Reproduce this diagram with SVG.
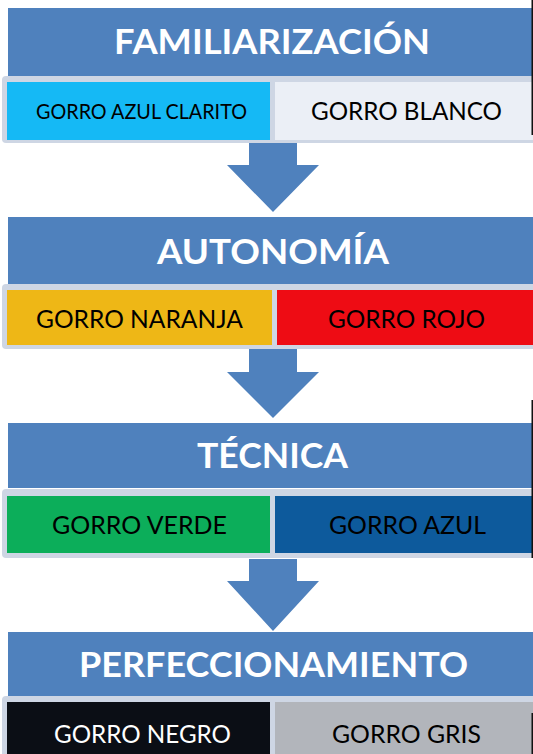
<svg xmlns="http://www.w3.org/2000/svg" width="533" height="754" viewBox="0 0 533 754">
<style>
.hdr{fill:#4F81BD}
.band{fill:#CED6E4}
.ttl{font-family:Lato,"Liberation Sans",sans-serif;font-weight:bold;font-size:34px;fill:#FFFFFF;text-anchor:middle}
.lbl{font-family:Lato,"Liberation Sans",sans-serif;font-size:25px;fill:#000000;text-anchor:middle}
.sm{font-size:21px}
.wht{fill:#FFFFFF}
.arrow{fill:#4F81BD}
.edge{fill:#111111}
</style>
<rect x="0" y="0" width="533" height="754" fill="#FFFFFF"/>

<g id="familiarizacion">
<rect class="hdr" x="8" y="8" width="540" height="68"/>
<text class="ttl" x="272" y="54" textLength="316" lengthAdjust="spacingAndGlyphs">FAMILIARIZACIÓN</text>
</g>
<g id="fila1">
<rect class="band" x="2" y="76" width="560" height="67" rx="4"/>
<g id="gorro-azul-clarito">
<rect x="7" y="82" width="263" height="58" fill="#15B9F5"/>
<text class="lbl sm" x="141.5" y="118.5" textLength="211" lengthAdjust="spacingAndGlyphs">GORRO AZUL CLARITO</text>
</g>
<g id="gorro-blanco">
<rect x="275" y="82" width="270" height="58" fill="#EBEFF6"/>
<text class="lbl" x="406.5" y="120" textLength="191" lengthAdjust="spacingAndGlyphs">GORRO BLANCO</text>
</g>
</g>

<g id="autonomia">
<rect class="hdr" x="8" y="217" width="540" height="67"/>
<text class="ttl" x="273" y="264" textLength="232" lengthAdjust="spacingAndGlyphs">AUTONOMÍA</text>
</g>
<g id="fila2">
<rect class="band" x="2" y="284" width="560" height="65" rx="4"/>
<g id="gorro-naranja">
<rect x="7" y="290" width="265" height="55" fill="#EEB716"/>
<text class="lbl" x="139.5" y="327.5" textLength="207" lengthAdjust="spacingAndGlyphs">GORRO NARANJA</text>
</g>
<g id="gorro-rojo">
<rect x="277" y="290" width="270" height="55" fill="#EE0C14"/>
<text class="lbl" x="406.5" y="327.5" textLength="157" lengthAdjust="spacingAndGlyphs">GORRO ROJO</text>
</g>
</g>

<g id="tecnica">
<rect class="hdr" x="8" y="423" width="540" height="65"/>
<text class="ttl" x="272.5" y="468" textLength="151" lengthAdjust="spacingAndGlyphs">TÉCNICA</text>
</g>
<g id="fila3">
<rect class="band" x="2" y="489" width="560" height="69" rx="4"/>
<g id="gorro-verde">
<rect x="7" y="496" width="263" height="57" fill="#0CAE5A"/>
<text class="lbl" x="139.5" y="533.5" textLength="175" lengthAdjust="spacingAndGlyphs">GORRO VERDE</text>
</g>
<g id="gorro-azul">
<rect x="275" y="496" width="270" height="57" fill="#0D5A9C"/>
<text class="lbl" x="407.5" y="533.5" textLength="157" lengthAdjust="spacingAndGlyphs">GORRO AZUL</text>
</g>
</g>

<g id="perfeccionamiento">
<rect class="hdr" x="8" y="632" width="540" height="64"/>
<text class="ttl" x="273.5" y="676.5" textLength="389" lengthAdjust="spacingAndGlyphs">PERFECCIONAMIENTO</text>
</g>
<g id="fila4">
<rect class="band" x="2" y="696" width="560" height="70" rx="4"/>
<g id="gorro-negro">
<rect x="7" y="702" width="263" height="60" fill="#0B0E15"/>
<text class="lbl wht" x="142.5" y="743" textLength="177" lengthAdjust="spacingAndGlyphs">GORRO NEGRO</text>
</g>
<g id="gorro-gris">
<rect x="275" y="702" width="270" height="60" fill="#B2B5BB"/>
<text class="lbl" x="406.5" y="743" textLength="149" lengthAdjust="spacingAndGlyphs">GORRO GRIS</text>
</g>
</g>

<g id="connectors">
<polygon class="arrow" points="249,143 297,143 297,165 319,165 273,212 227,165 249,165"/>
<polygon class="arrow" points="249,349 297,349 297,372 319,372 273,418 227,372 249,372"/>
<polygon class="arrow" points="249,559 297,559 297,581 319,581 273,631 227,581 249,581"/>
</g>

<g id="borde-derecho">
<rect class="edge" x="531.5" y="0" width="1.5" height="135"/>
<rect class="edge" x="531.5" y="400" width="1.5" height="158"/>
<rect class="edge" x="531.5" y="713" width="1.5" height="41"/>
</g>
</svg>
